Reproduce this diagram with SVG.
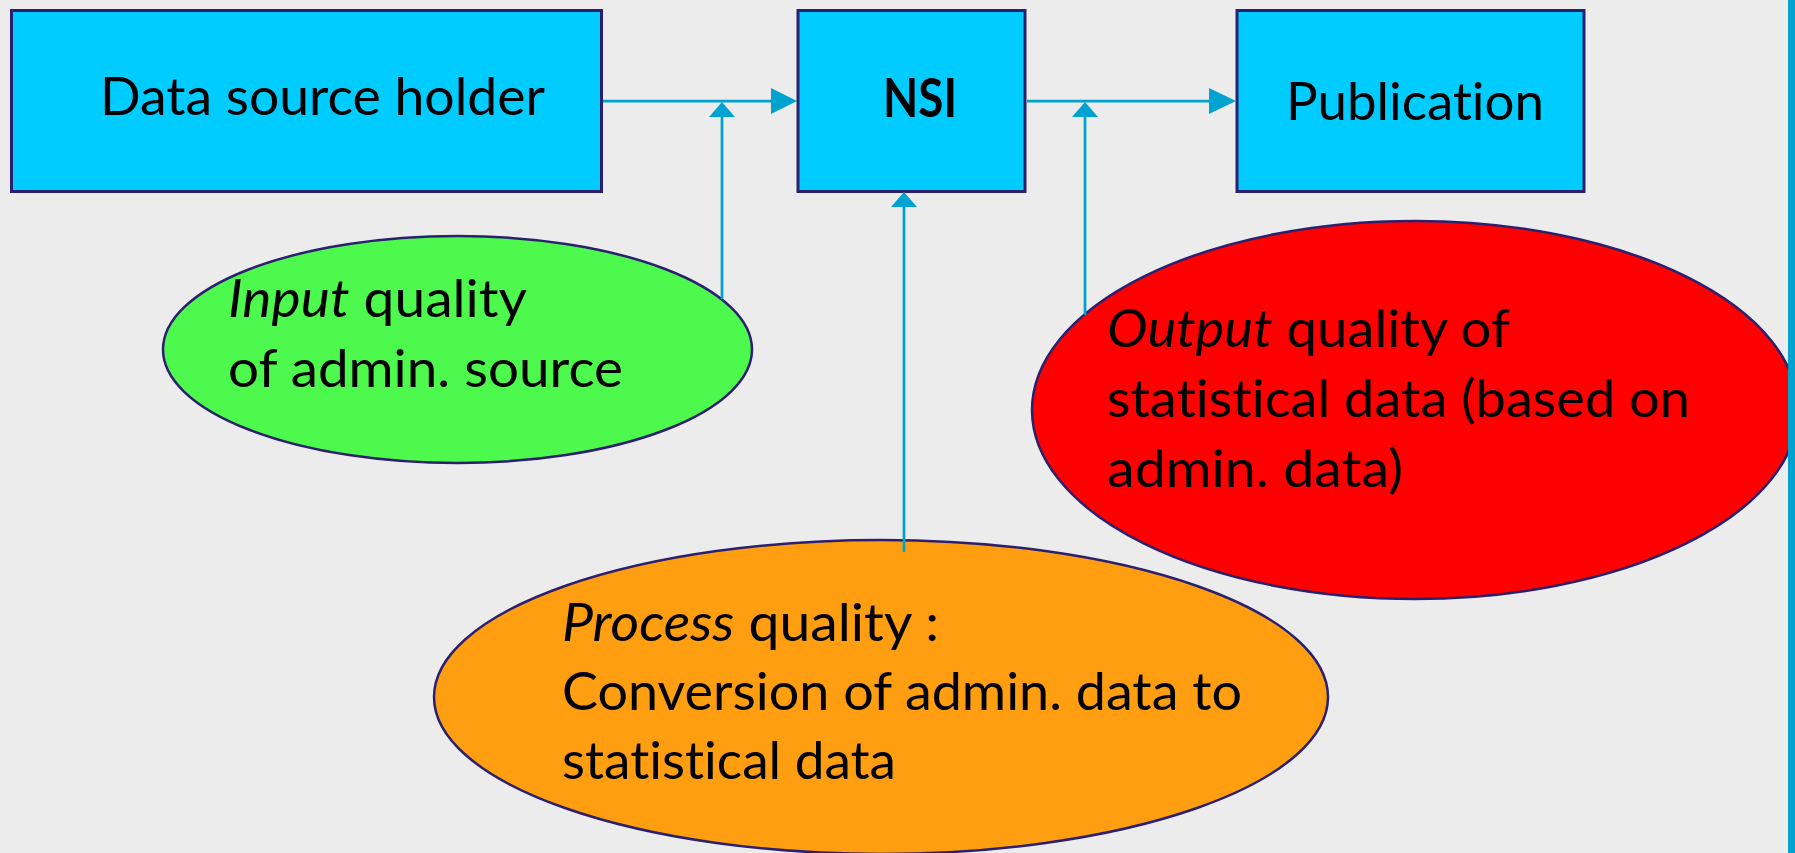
<svg xmlns="http://www.w3.org/2000/svg" width="1795" height="853" viewBox="0 0 1795 853">
<style>
.box{fill:#00CCFF;stroke:#2B1F6F;stroke-width:3}
.ell{stroke:#2B1F6F;stroke-width:2.5}
.t{font-family:Lato,"Open Sans","Liberation Sans",sans-serif;font-size:53px;fill:#000;font-variant-ligatures:none;font-feature-settings:"liga" 0,"clig" 0,"dlig" 0,"calt" 0}
.b{font-weight:bold}
.i{font-style:italic}
.ln{stroke:#00A2D0;stroke-width:2.75;fill:none}
.ah{fill:#00A2D0}
</style>
<rect x="0" y="0" width="1795" height="853" fill="#ECECEC"/>
<g id="input-quality">
<ellipse class="ell" cx="457.5" cy="349.5" rx="294.5" ry="113.5" fill="#4CF94C"/>
<text class="t" x="228" y="317" textLength="299" lengthAdjust="spacingAndGlyphs"><tspan class="i">Input</tspan> quality</text>
<text class="t" x="228" y="387" textLength="395" lengthAdjust="spacingAndGlyphs">of admin. source</text>
</g>
<g id="output-quality">
<ellipse class="ell" cx="1415" cy="410" rx="383" ry="189" fill="#FF0000"/>
<text class="t" x="1107" y="347" textLength="403" lengthAdjust="spacingAndGlyphs"><tspan class="i">Output</tspan> quality of</text>
<text class="t" x="1107" y="417" textLength="583" lengthAdjust="spacingAndGlyphs">statistical data (based on</text>
<text class="t" x="1107" y="487" textLength="296" lengthAdjust="spacingAndGlyphs">admin. data)</text>
</g>
<g id="process-quality">
<ellipse class="ell" cx="881" cy="697" rx="447" ry="157" fill="#FF9E10"/>
<text class="t" x="562" y="641" textLength="377" lengthAdjust="spacingAndGlyphs"><tspan class="i">Process</tspan> quality :</text>
<text class="t" x="562" y="710" textLength="680" lengthAdjust="spacingAndGlyphs">Conversion of admin. data to</text>
<text class="t" x="562" y="779" textLength="334" lengthAdjust="spacingAndGlyphs">statistical data</text>
</g>
<g id="data-source-holder">
<rect class="box" x="11.5" y="10.5" width="590" height="181"/>
<text class="t" x="100" y="115" textLength="445" lengthAdjust="spacingAndGlyphs">Data source holder</text>
</g>
<g id="nsi">
<rect class="box" x="798" y="10.5" width="227" height="181"/>
<text class="t b" x="883" y="117" textLength="74" lengthAdjust="spacingAndGlyphs">NSI</text>
</g>
<g id="publication">
<rect class="box" x="1237" y="10.5" width="347" height="181"/>
<text class="t" x="1286" y="120" textLength="258" lengthAdjust="spacingAndGlyphs">Publication</text>
</g>
<g id="connectors">
<line class="ln" x1="603" y1="101" x2="772" y2="101"/>
<polygon class="ah" points="797,101 771,88 771,114"/>
<line class="ln" x1="1027" y1="101" x2="1210" y2="101"/>
<polygon class="ah" points="1236,101 1209,88 1209,114"/>
<line class="ln" x1="722" y1="116" x2="722" y2="299"/>
<polygon class="ah" points="722,102 709,117 735,117"/>
<line class="ln" x1="1085" y1="116" x2="1085" y2="315"/>
<polygon class="ah" points="1085,102 1072,117 1098,117"/>
<line class="ln" x1="904" y1="206" x2="904" y2="552"/>
<polygon class="ah" points="904,192 891,207 917,207"/>
</g>
<rect x="1788" y="0" width="7" height="853" fill="#00A2D0"/>
</svg>
